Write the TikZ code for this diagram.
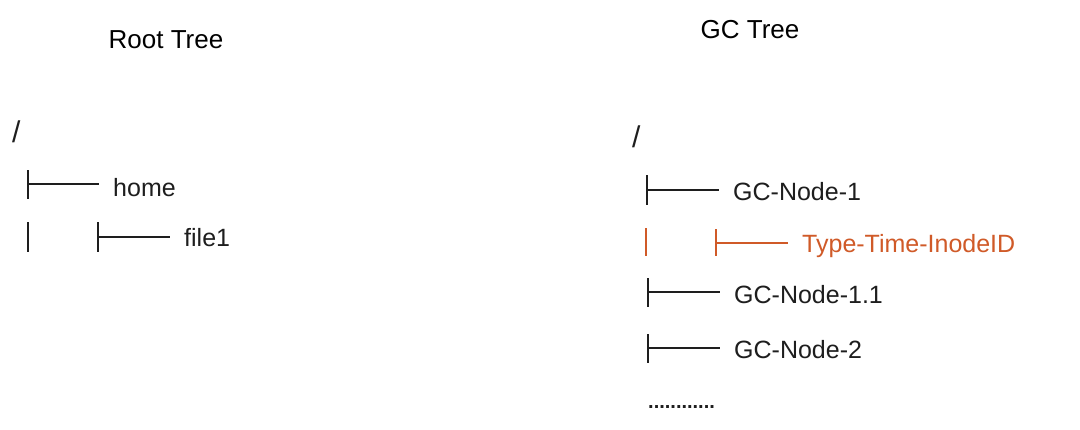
\documentclass[tikz,border=0pt]{standalone}
\usepackage{fontspec}
\usepackage{xcolor}
\usetikzlibrary{positioning,calc}
\setmainfont{Liberation Sans}
\newfontfamily\handfont{Liberation Sans}
\definecolor{gcInk}{HTML}{1E1E1E}
\definecolor{gcOrange}{HTML}{D05A28}

\begin{document}
\begin{tikzpicture}[
  x=1pt,y=-1pt,
  title/.style={
    anchor=base,
    inner sep=0pt,
    font=\fontsize{26}{30}\selectfont
  },
  entry/.style={
    anchor=base west,
    inner sep=0pt,
    text=gcInk,
    font=\handfont\fontsize{25}{30}\selectfont
  },
  slash/.style={entry,font=\handfont\fontsize{30}{34}\selectfont},
  branch/.style={line width=2.4pt,gcInk},
  twig/.style={branch,shorten >=14pt},
  fresh/.style={gcOrange,text=gcOrange}
]
  \useasboundingbox[fill=white] (0,0) rectangle (1080,429);

  % titles
  \node[title] (roottitle) at (166,48) {Root Tree};
  \node[title] (gctitle) at (750,38) {GC Tree};

  % root tree
  \node[slash] (rootslash) at (12,142) {/};
  \node[entry] (home) at (113,196) {home};
  \node[entry] (file) at (184,246) {file1};
  \coordinate (homeA) at (28,170);
  \coordinate (homeB) at (28,199);
  \coordinate (homeM) at (28,184);
  \coordinate (fileA) at (28,222);
  \coordinate (fileB) at (28,252);
  \coordinate (subA) at (98,222);
  \coordinate (subB) at (98,252);
  \coordinate (subM) at (98,237);

  \draw[branch] (homeA)--(homeB);
  \draw[twig] (homeM)--(homeM -| home.west);
  \draw[branch] (fileA)--(fileB);
  \draw[branch] (subA)--(subB);
  \draw[twig] (subM)--(subM -| file.west);

  % gc tree
  \node[slash] (gcslash) at (632,147) {/};
  \node[entry] (gcone) at (733,200) {GC-Node-1};
  \node[entry,fresh] (inode) at (802,252) {Type-Time-InodeID};
  \node[entry] (gconeone) at (734,303) {GC-Node-1.1};
  \node[entry] (gctwo) at (734,358) {GC-Node-2};
  \node[entry,font=\handfont\bfseries\fontsize{20}{24}\selectfont] (more) at (648,408) {............};
  \coordinate (oneA) at (647,175);
  \coordinate (oneB) at (647,205);
  \coordinate (oneM) at (647,190);
  \coordinate (inA) at (646,228);
  \coordinate (inB) at (646,256);
  \coordinate (insubA) at (716,229);
  \coordinate (insubB) at (716,256);
  \coordinate (insubM) at (716,243);
  \coordinate (oneoneA) at (648,278);
  \coordinate (oneoneB) at (648,307);
  \coordinate (oneoneM) at (648,292);
  \coordinate (twoA) at (648,334);
  \coordinate (twoB) at (648,363);
  \coordinate (twoM) at (648,348);

  \draw[branch] (oneA)--(oneB);
  \draw[twig] (oneM)--(oneM -| gcone.west);
  \draw[branch,fresh] (inA)--(inB);
  \draw[branch,fresh] (insubA)--(insubB);
  \draw[twig,fresh] (insubM)--(insubM -| inode.west);
  \draw[branch] (oneoneA)--(oneoneB);
  \draw[twig] (oneoneM)--(oneoneM -| gconeone.west);
  \draw[branch] (twoA)--(twoB);
  \draw[twig] (twoM)--(twoM -| gctwo.west);
\end{tikzpicture}
\end{document}
